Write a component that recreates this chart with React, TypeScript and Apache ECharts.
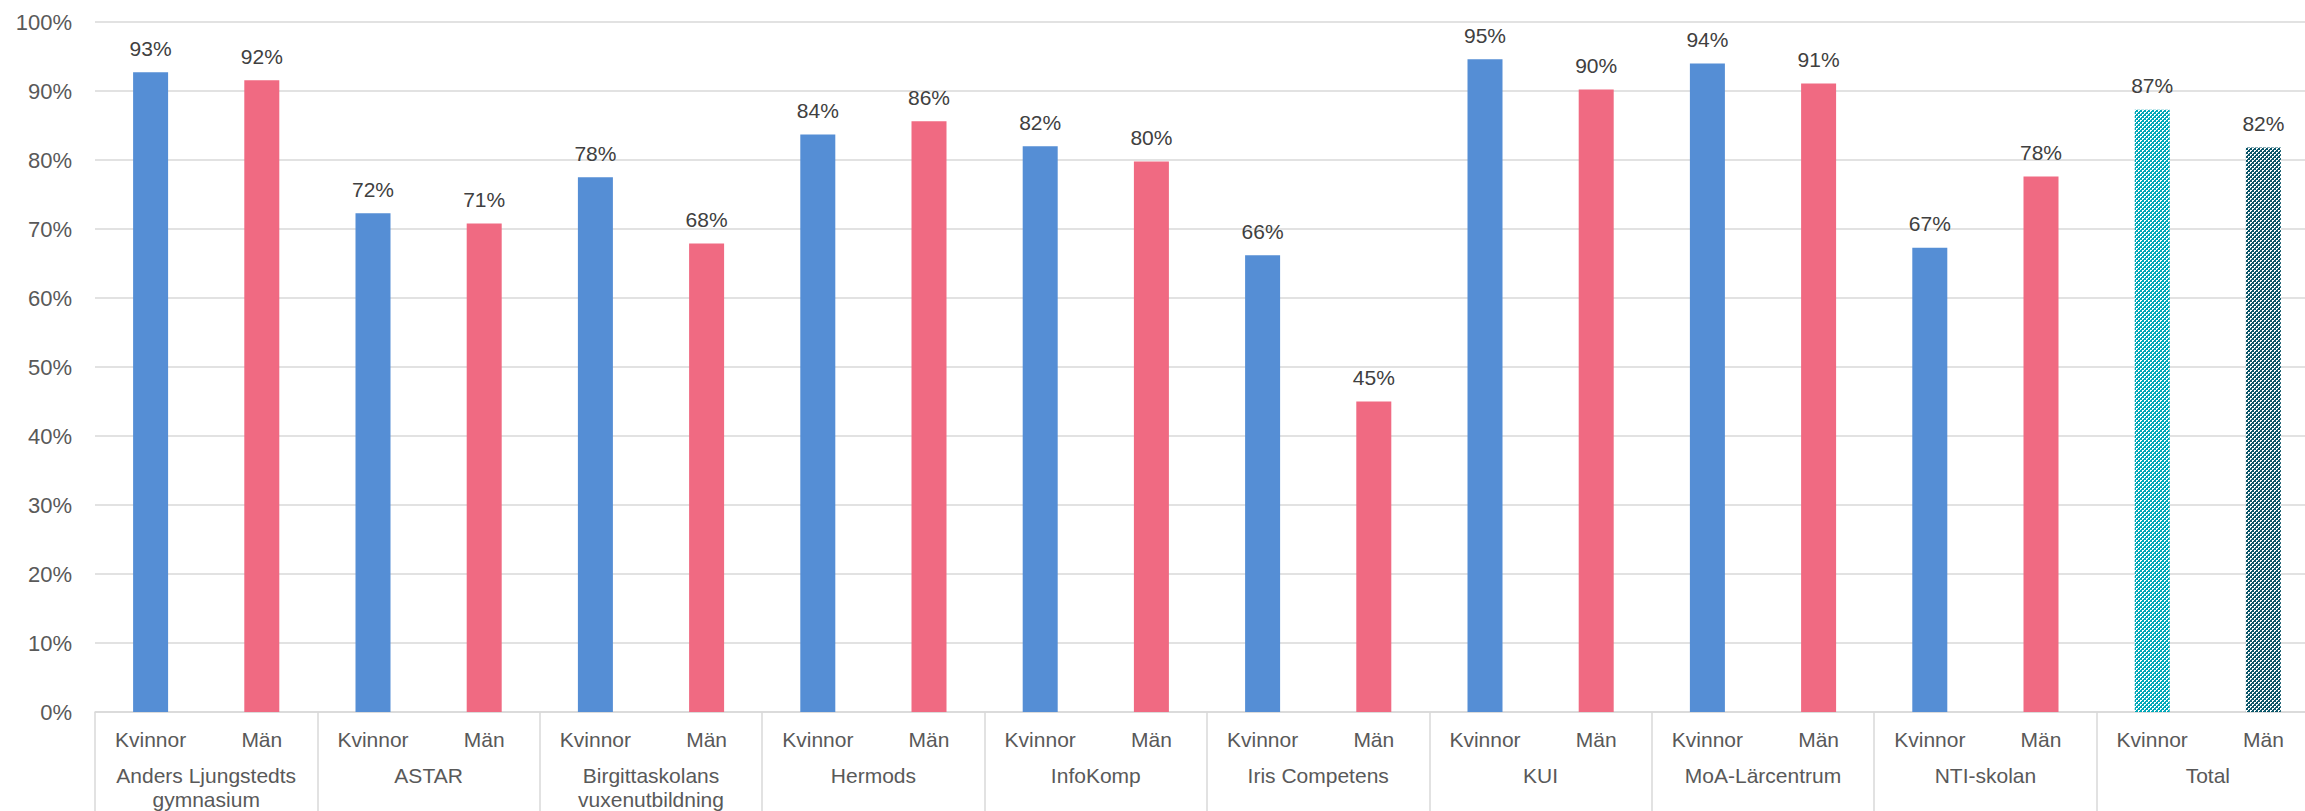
import React, { useEffect, useRef } from "react";
import * as echarts from "echarts";

const groups = [
  "Anders Ljungstedts\ngymnasium",
  "ASTAR",
  "Birgittaskolans\nvuxenutbildning",
  "Hermods",
  "InfoKomp",
  "Iris Competens",
  "KUI",
  "MoA-Lärcentrum",
  "NTI-skolan",
  "Total",
];
const genders = ["Kvinnor", "Män"];
const kvinnor = [92.7, 72.3, 77.5, 83.7, 82.0, 66.2, 94.6, 94.0, 67.3, 87.3];
const man = [91.55, 70.8, 67.9, 85.6, 79.8, 45.0, 90.2, 91.1, 77.6, 81.8];
const yTicks = [0, 10, 20, 30, 40, 50, 60, 70, 80, 90, 100];

const BLUE = "#558ED5";
const PINK = "#F06A82";
const TEAL = "#00A7B8";
const DARK_TEAL = "#0B5669";
const FONT = "'Liberation Sans', Arial, sans-serif";

function makePattern(fg: string) {
  const c = document.createElement("canvas");
  c.width = 4;
  c.height = 4;
  const ctx = c.getContext("2d")!;
  ctx.fillStyle = fg;
  ctx.fillRect(0, 0, 4, 4);
  ctx.fillStyle = "#ffffff";
  ctx.fillRect(0, 0, 2, 1);
  ctx.fillRect(0, 1, 1, 1);
  ctx.fillRect(2, 2, 2, 1);
  ctx.fillRect(2, 3, 1, 1);
  return { image: c, repeat: "repeat" } as any;
}

export default function App() {
  const ref = useRef<HTMLDivElement>(null);
  useEffect(() => {
    if (!ref.current) return;
    const chart = echarts.init(ref.current, undefined, { renderer: "svg" });
    const lastIdx = groups.length - 1;
    const subCats: string[] = [];
    const data: any[] = [];
    groups.forEach((g, i) => {
      subCats.push(genders[0], genders[1]);
      const isTotal = i === lastIdx;
      data.push({
        value: kvinnor[i],
        itemStyle: { color: isTotal ? makePattern(TEAL) : BLUE },
      });
      data.push({
        value: man[i],
        itemStyle: { color: isTotal ? makePattern(DARK_TEAL) : PINK },
      });
    });
    chart.setOption({
      animation: false,
      backgroundColor: "#ffffff",
      textStyle: { fontFamily: FONT },
      grid: { left: 95, right: 0, top: 22, bottom: 99, containLabel: false },
      xAxis: [
        {
          type: "category",
          data: subCats,
          position: "bottom",
          axisLine: { show: true, lineStyle: { color: "#D9D9D9", width: 1.5 } },
          axisTick: { show: false },
          axisLabel: {
            interval: 0,
            margin: 15,
            fontSize: 21,
            lineHeight: 24,
            color: "#595959",
            fontFamily: FONT,
          },
          splitLine: { show: false },
        },
        {
          type: "category",
          data: groups,
          position: "bottom",
          axisLine: { show: false },
          axisTick: {
            show: true,
            interval: 0,
            length: 110,
            lineStyle: { color: "#D9D9D9", width: 1.5 },
          },
          axisLabel: {
            interval: 0,
            margin: 51,
            fontSize: 21,
            lineHeight: 24,
            color: "#595959",
            fontFamily: FONT,
          },
          splitLine: { show: false },
        },
      ],
      yAxis: {
        type: "value",
        min: yTicks[0],
        max: yTicks[yTicks.length - 1],
        interval: 10,
        axisLine: { show: false },
        axisTick: { show: false },
        axisLabel: {
          formatter: "{value}%",
          fontSize: 22,
          color: "#595959",
          margin: 23,
          fontFamily: FONT,
        },
        splitLine: { lineStyle: { color: "#D9D9D9", width: 1.5 } },
      },
      series: [
        {
          type: "bar",
          xAxisIndex: 0,
          data,
          barWidth: 35,
          label: {
            show: true,
            position: "top",
            distance: 12,
            fontSize: 21,
            lineHeight: 24,
            color: "#404040",
            fontFamily: FONT,
            formatter: (p: any) => Math.round(p.value) + "%",
          },
        },
      ],
    });
    return () => chart.dispose();
  }, []);
  return (
    <div
      style={{
        position: "absolute",
        left: 0,
        top: 0,
        width: 2305,
        height: 811,
        overflow: "hidden",
        background: "#ffffff",
      }}
    >
      <div ref={ref} style={{ width: 2319, height: 811 }} />
    </div>
  );
}
